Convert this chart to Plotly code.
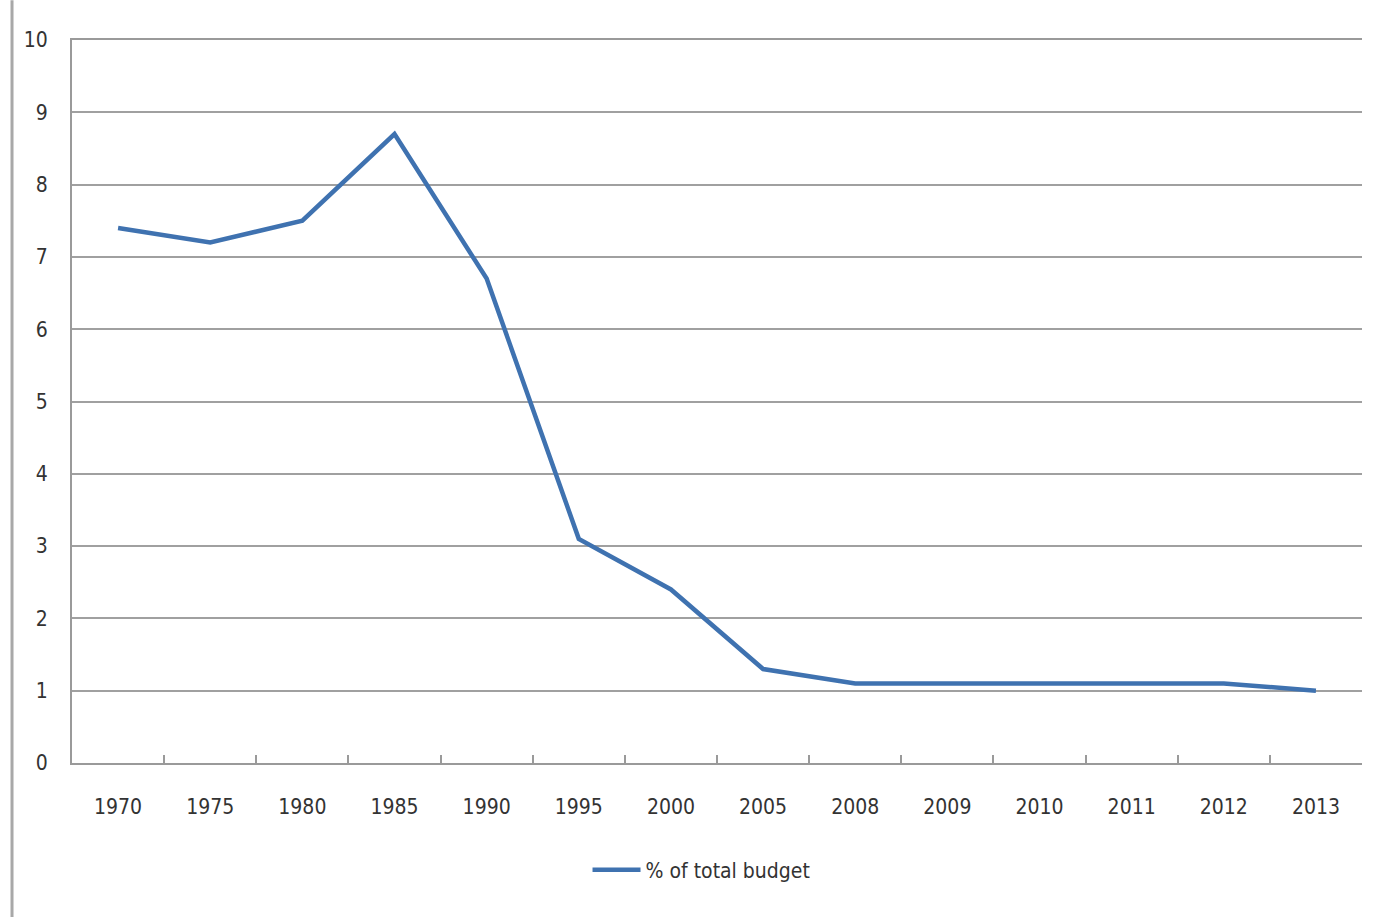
import plotly.graph_objects as go

years = ["1970", "1975", "1980", "1985", "1990", "1995", "2000", "2005",
         "2008", "2009", "2010", "2011", "2012", "2013"]
pct_budget = [7.4, 7.2, 7.5, 8.7, 6.7, 3.1, 2.4, 1.3, 1.1, 1.1, 1.1, 1.1, 1.1, 1.0]
y_ticks = [0, 1, 2, 3, 4, 5, 6, 7, 8, 9, 10]

FONT = "Liberation Sans Narrow, DejaVu Sans Condensed, Arial Narrow, sans-serif"

fig = go.Figure()
fig.add_trace(go.Scatter(
    x=years, y=pct_budget, mode="lines", name="% of total budget",
    line=dict(color="#3f72b0", width=4.5),
))

fig.update_layout(
    width=1376, height=917,
    margin=dict(l=72, r=14, t=40, b=154),
    paper_bgcolor="white", plot_bgcolor="white",
    font=dict(family=FONT, size=20, color="#333333"),
    showlegend=True,
    legend=dict(orientation="h", x=0.488, xanchor="center", y=-0.148, yanchor="middle",
                font=dict(family=FONT, size=21, color="#333333"),
                itemwidth=48),
    xaxis=dict(
        type="category", range=[-0.5, 13.5],
        showgrid=False, showline=True, linecolor="#9a9a9a", linewidth=2, mirror=True,
        ticks="inside", tickson="boundaries", ticklen=8, tickcolor="#9a9a9a", tickwidth=1.5,
        ticklabelstandoff=24, tickfont=dict(size=21),
    ),
    yaxis=dict(
        range=[0, 10], tickvals=y_ticks,
        showgrid=True, gridcolor="#a0a0a0", gridwidth=2,
        showline=True, linecolor="#9a9a9a", linewidth=2,
        zeroline=False, ticks="", ticklabelstandoff=18, tickfont=dict(size=21),
    ),
    shapes=[dict(type="line", xref="paper", yref="paper",
                 x0=-0.0465, x1=-0.0465, y0=-0.213, y1=1.055,
                 line=dict(color="#a8a8a8", width=3))],
)

fig.write_html("out.html")
